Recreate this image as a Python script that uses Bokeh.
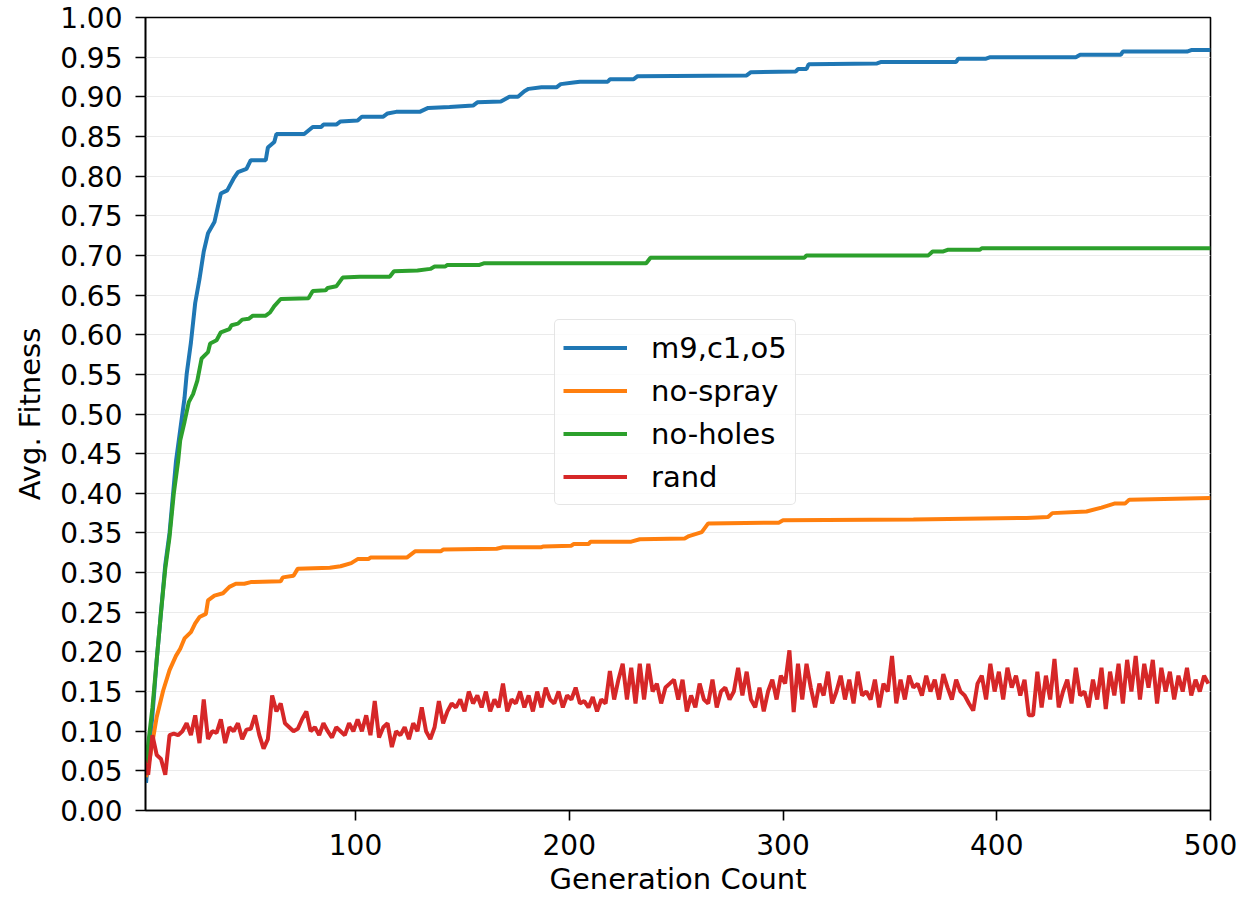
from bokeh.plotting import figure
from bokeh.models import Range1d, FixedTicker, NumeralTickFormatter, Legend, LegendItem
from bokeh.embed import file_html
from bokeh.resources import INLINE

# ---------------- data ----------------
series_names = ["m9,c1,o5", "no-spray", "no-holes", "rand"]
series_colors = ["#1f77b4", "#ff7f0e", "#2ca02c", "#d62728"]

blue_gen = [2, 5, 7, 9, 11, 13, 15, 16, 18, 20, 21, 23, 25, 27, 29, 31, 34, 37, 40, 43, 45, 49, 51, 58, 59, 62, 63,
            76, 80, 84, 85, 91, 93, 101, 103, 113, 115, 119, 130, 134, 144, 155, 157, 168, 172, 176, 179, 181, 187,
            194, 196, 202, 205, 218, 219, 230, 232, 283, 285, 306, 307, 311, 312, 344, 346, 381, 382, 395, 397, 437,
            439, 458, 459, 489, 491, 500]
blue_val = [0.035, 0.12, 0.19, 0.25, 0.31, 0.35, 0.41, 0.44, 0.48, 0.52, 0.55, 0.59, 0.64, 0.67, 0.705, 0.728, 0.742,
            0.778, 0.782, 0.797, 0.805, 0.809, 0.82, 0.82, 0.836, 0.843, 0.853, 0.853, 0.862, 0.862, 0.865, 0.865,
            0.869, 0.87, 0.875, 0.875, 0.879, 0.881, 0.881, 0.886, 0.887, 0.889, 0.893, 0.894, 0.9, 0.9, 0.907, 0.91,
            0.912, 0.912, 0.916, 0.918, 0.919, 0.919, 0.922, 0.922, 0.926, 0.927, 0.931, 0.932, 0.935, 0.935, 0.941,
            0.942, 0.944, 0.944, 0.948, 0.948, 0.95, 0.95, 0.953, 0.953, 0.957, 0.957, 0.959, 0.959]

orange_gen = [2, 4, 7, 10, 13, 16, 18, 20, 23, 25, 27, 30, 31, 34, 38, 41, 44, 48, 51, 65, 66, 71, 73, 88, 93, 98,
              101, 106, 107, 124, 128, 140, 141, 166, 169, 187, 188, 201, 202, 209, 210, 229, 233, 254, 256, 262,
              265, 298, 300, 361, 414, 424, 426, 442, 449, 455, 460, 462, 500]
orange_val = [0.042, 0.07, 0.118, 0.151, 0.177, 0.195, 0.204, 0.217, 0.225, 0.236, 0.244, 0.248, 0.265, 0.271, 0.274,
              0.282, 0.286, 0.286, 0.288, 0.289, 0.294, 0.296, 0.305, 0.306, 0.308, 0.312, 0.317, 0.317, 0.319,
              0.319, 0.327, 0.327, 0.329, 0.330, 0.332, 0.332, 0.333, 0.334, 0.336, 0.336, 0.339, 0.339, 0.342,
              0.343, 0.346, 0.351, 0.362, 0.363, 0.366, 0.367, 0.369, 0.370, 0.375, 0.377, 0.382, 0.387, 0.387,
              0.392, 0.394]

green_gen = [2, 5, 7, 9, 11, 13, 15, 17, 18, 20, 22, 24, 26, 28, 31, 32, 35, 37, 41, 42, 45, 47, 50, 52, 58, 60, 62,
             65, 78, 80, 86, 87, 91, 94, 102, 116, 118, 129, 135, 137, 142, 143, 158, 160, 236, 238, 310, 311, 368,
             370, 375, 377, 392, 393, 500]
green_val = [0.06, 0.13, 0.19, 0.25, 0.305, 0.345, 0.4, 0.44, 0.467, 0.49, 0.515, 0.525, 0.542, 0.57, 0.578, 0.589,
             0.593, 0.603, 0.607, 0.612, 0.614, 0.619, 0.62, 0.624, 0.624, 0.628, 0.636, 0.645, 0.646, 0.655, 0.656,
             0.659, 0.661, 0.672, 0.673, 0.673, 0.68, 0.681, 0.683, 0.686, 0.686, 0.688, 0.688, 0.69, 0.69, 0.697,
             0.697, 0.7, 0.7, 0.705, 0.705, 0.707, 0.707, 0.709, 0.709]

red_gen = list(range(1, 500, 2))
red_val = [
    0.065, 0.045, 0.095, 0.07, 0.065, 0.045,
    0.095, 0.097, 0.095, 0.10, 0.11, 0.095, 0.12, 0.085, 0.14,
    0.09, 0.10, 0.098, 0.115, 0.085, 0.105, 0.10, 0.11, 0.09, 0.102, 0.103, 0.12, 0.095, 0.078, 0.09,
    0.145, 0.125, 0.135, 0.11, 0.105, 0.10, 0.103, 0.115, 0.125, 0.10,
    0.105, 0.095, 0.11, 0.10, 0.092, 0.105, 0.10, 0.095, 0.11, 0.10,
    0.115, 0.10, 0.12, 0.095, 0.138, 0.092, 0.105, 0.11, 0.08, 0.10,
    0.095, 0.105, 0.09, 0.11, 0.10, 0.13, 0.10, 0.09, 0.105, 0.138,
    0.11, 0.125, 0.135, 0.13, 0.14, 0.125, 0.15, 0.135, 0.145, 0.13,
    0.15, 0.125, 0.14, 0.13, 0.16, 0.125, 0.14, 0.135, 0.15, 0.13,
    0.145, 0.125, 0.15, 0.13, 0.155, 0.14, 0.135, 0.15, 0.13, 0.145,
    0.14, 0.155, 0.135, 0.138, 0.13, 0.143, 0.125, 0.14, 0.135, 0.176,
    0.14, 0.165, 0.185, 0.14, 0.18, 0.135, 0.185, 0.14, 0.185, 0.15,
    0.16, 0.135, 0.155, 0.16, 0.165, 0.14, 0.165, 0.125, 0.145, 0.13,
    0.16, 0.14, 0.135, 0.165, 0.13, 0.15, 0.155, 0.14, 0.15, 0.18,
    0.145, 0.175, 0.14, 0.13, 0.155, 0.125, 0.15, 0.165, 0.14, 0.17,
    0.16, 0.202, 0.124, 0.185, 0.14, 0.185, 0.155, 0.13, 0.16, 0.145,
    0.175, 0.135, 0.15, 0.17, 0.14, 0.165, 0.135, 0.175, 0.145, 0.15,
    0.14, 0.165, 0.13, 0.16, 0.15, 0.195, 0.135, 0.165, 0.14, 0.17,
    0.155, 0.16, 0.145, 0.17, 0.15, 0.165, 0.14, 0.172, 0.155, 0.14,
    0.165, 0.15, 0.145, 0.135, 0.126, 0.16, 0.17, 0.14, 0.185, 0.15,
    0.175, 0.14, 0.18, 0.155, 0.17, 0.145, 0.165, 0.12, 0.12, 0.175,
    0.13, 0.17, 0.14, 0.191, 0.13, 0.15, 0.165, 0.135, 0.18, 0.145,
    0.15, 0.13, 0.165, 0.14, 0.18, 0.128, 0.175, 0.145, 0.185, 0.135,
    0.19, 0.15, 0.195, 0.14, 0.185, 0.155, 0.19, 0.135, 0.18, 0.15,
    0.175, 0.14, 0.17, 0.15, 0.18, 0.145, 0.165, 0.15, 0.17, 0.16,
]

y_ticks = [round(i * 0.05, 2) for i in range(21)]
x_ticks = [100, 200, 300, 400, 500]
x_label = "Generation Count"
y_label = "Avg. Fitness"

# ---------------- figure ----------------
FONT = "DejaVu Sans"
p = figure(width=1242, height=900, output_backend="svg", toolbar_location=None,
           x_range=Range1d(1.75, 500), y_range=Range1d(0, 1),
           min_border_left=145, min_border_top=17, min_border_right=32, min_border_bottom=90)
p.background_fill_color = "white"
p.border_fill_color = "white"
p.outline_line_color = "black"
p.outline_line_width = 1.6

p.xgrid.visible = False
p.ygrid.grid_line_color = "#ebebeb"
p.ygrid.grid_line_width = 1.2
p.ygrid.ticker = FixedTicker(ticks=y_ticks)

p.xaxis.ticker = FixedTicker(ticks=x_ticks)
p.yaxis.ticker = FixedTicker(ticks=y_ticks)
p.yaxis.formatter = NumeralTickFormatter(format="0.00")
for ax in (p.xaxis, p.yaxis):
    ax.axis_line_color = "black"
    ax.axis_line_width = 1.6
    ax.major_tick_line_color = "black"
    ax.major_tick_line_width = 1.6
    ax.major_tick_out = 10
    ax.major_tick_in = 0
    ax.minor_tick_line_color = None
    ax.major_label_text_font = FONT
    ax.major_label_text_font_size = "28px"
    ax.major_label_text_color = "black"
    ax.axis_label_text_font = FONT
    ax.axis_label_text_font_size = "29px"
    ax.axis_label_text_font_style = "normal"
    ax.axis_label_text_color = "black"
p.xaxis.axis_label = x_label
p.yaxis.axis_label = y_label
p.xaxis.major_label_standoff = 13
p.yaxis.major_label_standoff = 13
p.xaxis.axis_label_standoff = 4
p.yaxis.axis_label_standoff = 10

lw = 4
r_blue = p.line(blue_gen, blue_val, line_color=series_colors[0], line_width=lw)
r_orange = p.line(orange_gen, orange_val, line_color=series_colors[1], line_width=lw)
r_green = p.line(green_gen, green_val, line_color=series_colors[2], line_width=lw)
r_red = p.line(red_gen, red_val, line_color=series_colors[3], line_width=lw)

legend = Legend(items=[
    LegendItem(label=series_names[0], renderers=[r_blue]),
    LegendItem(label=series_names[1], renderers=[r_orange]),
    LegendItem(label=series_names[2], renderers=[r_green]),
    LegendItem(label=series_names[3], renderers=[r_red]),
], location=(409, 305))
legend.label_text_font = FONT
legend.label_text_font_size = "29px"
legend.label_text_color = "black"
legend.glyph_width = 64
legend.glyph_height = 39
legend.label_height = 39
legend.spacing = 4
legend.padding = 8
legend.margin = 0
legend.label_standoff = 24
legend.border_line_color = "#cccccc"
legend.border_line_width = 1.5
legend.border_radius = 5
legend.background_fill_color = "white"
legend.background_fill_alpha = 0.8
p.add_layout(legend, "center")

open("out.html", "w").write(file_html(p, INLINE))
